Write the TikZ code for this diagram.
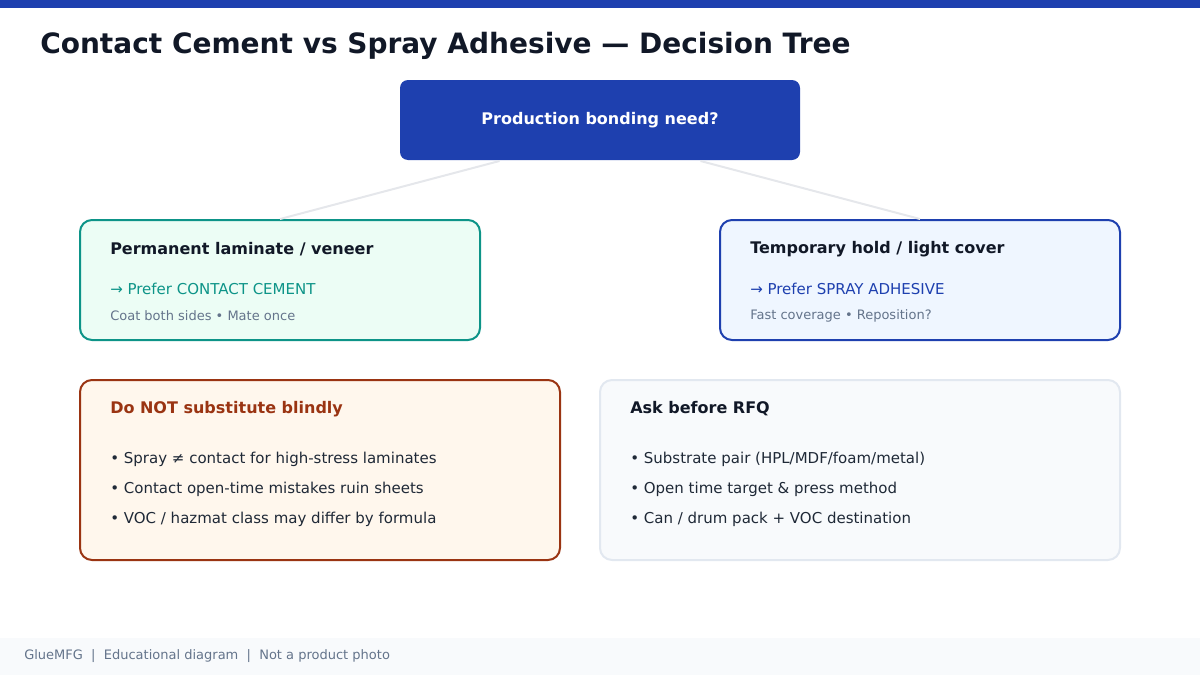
\documentclass[tikz,border=0pt]{standalone}
\usepackage{fontspec}
\setmainfont{DejaVu Sans}
\usetikzlibrary{calc}

\definecolor{navy}{HTML}{1E40AF}
\definecolor{ink}{HTML}{111827}
\definecolor{bodytext}{HTML}{1F2937}
\definecolor{tealline}{HTML}{0D9488}
\definecolor{mintfill}{HTML}{ECFDF5}
\definecolor{skyfill}{HTML}{EFF6FF}
\definecolor{rust}{HTML}{9A3412}
\definecolor{creamfill}{HTML}{FFF7ED}
\definecolor{slatefill}{HTML}{F8FAFC}
\definecolor{slateline}{HTML}{E2E8F0}
\definecolor{slatetext}{HTML}{64748B}
\definecolor{linkgray}{HTML}{E5E7EB}

\begin{document}
\begin{tikzpicture}[x=0.75pt, y=-0.75pt,
	box/.style={rounded corners=9pt, line width=1.5pt, inner sep=0pt},
	head/.style={anchor=west, inner sep=0pt, font=\bfseries\fontsize{12}{14}\selectfont, text=ink},
	body/.style={anchor=west, inner sep=0pt, font=\fontsize{11.25}{13}\selectfont, text=bodytext},
	note/.style={anchor=west, inner sep=0pt, font=\fontsize{9.75}{11}\selectfont, text=slatetext},
	link/.style={draw=linkgray, line width=1.5pt}]

	\useasboundingbox (0,0) rectangle (1200,675);
	\fill[navy] (0,0) rectangle (1200,8);

	\node[anchor=west, inner sep=0pt, font=\bfseries\fontsize{21}{24}\selectfont, text=ink] (Title) at (40,46) {Contact Cement vs Spray Adhesive — Decision Tree};

	\node[box, rounded corners=6pt, fill=navy, text=white, font=\bfseries\fontsize{12}{14}\selectfont, minimum width=300pt, minimum height=60pt] (Root) at (600,120) {Production bonding need?};

	\node[box, draw=tealline, fill=mintfill, minimum width=300pt, minimum height=90pt] (Permanent) at (280,280) {};
	\node[head] (permTitle) at (110,249) {Permanent laminate / veneer};
	\node[body, text=tealline] (permPrefer) at (110,289) {→ Prefer CONTACT CEMENT};
	\node[note] (permNote) at (110,316) {Coat both sides • Mate once};

	\node[box, draw=navy, fill=skyfill, minimum width=300pt, minimum height=90pt] (Temporary) at (920,280) {};
	\node[head] (tempTitle) at (750,249) {Temporary hold / light cover};
	\node[body, text=navy] (tempPrefer) at (750,289) {→ Prefer SPRAY ADHESIVE};
	\node[note] (tempNote) at (750,316) {Fast coverage • Reposition?};

	\draw[link] ($(Root.south west)!0.25!(Root.south east)$) -- (Permanent.north);
	\draw[link] ($(Root.south west)!0.75!(Root.south east)$) -- (Temporary.north);

	\node[box, draw=rust, fill=creamfill, minimum width=360pt, minimum height=135pt] (Warning) at (320,470) {};
	\node[head, text=rust] (warnTitle) at (110,409) {Do NOT substitute blindly};
	\node[body] (warnA) at (110,459) {• Spray ≠ contact for high-stress laminates};
	\node[body] (warnB) at (110,489) {• Contact open-time mistakes ruin sheets};
	\node[body] (warnC) at (110,519) {• VOC / hazmat class may differ by formula};

	\node[box, draw=slateline, fill=slatefill, minimum width=390pt, minimum height=135pt] (Ask) at (860,470) {};
	\node[head] (askTitle) at (630,409) {Ask before RFQ};
	\node[body] (askA) at (630,459) {• Substrate pair (HPL/MDF/foam/metal)};
	\node[body] (askB) at (630,489) {• Open time target \& press method};
	\node[body] (askC) at (630,519) {• Can / drum pack + VOC destination};

	\fill[slatefill] (0,638) rectangle (1200,675);
	\node[note] (Footer) at (24,656) {GlueMFG~~|~~Educational diagram~~|~~Not a product photo};

\end{tikzpicture}
\end{document}
